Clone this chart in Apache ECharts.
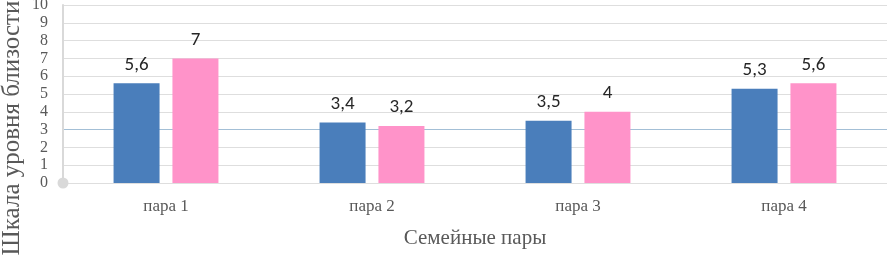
<!DOCTYPE html>
<html><head><meta charset="utf-8">
<script src="https://cdn.jsdelivr.net/npm/echarts@6/dist/echarts.min.js"></script>
<style>html,body{margin:0;padding:0;background:#fff}#c{width:889px;height:261px}</style>
</head><body><div id="c"></div>
<script>
const categories = ['пара 1', 'пара 2', 'пара 3', 'пара 4'];
const seriesBlue = [5.6, 3.4, 3.5, 5.3];
const seriesPink = [7, 3.2, 4, 5.6];
const yTicks = [0, 1, 2, 3, 4, 5, 6, 7, 8, 9, 10];
const yTitle = 'Шкала уровня близости';
const xTitle = 'Семейные пары';

const gridColors = yTicks.map(v => v === 3 ? '#a3bfd6' : '#dedede');
const fmt = p => String(p.value).replace('.', ',');
const chart = echarts.init(document.getElementById('c'));
const labelCfg = {show: true, position: 'top', distance: 9, formatter: fmt,
  fontFamily: 'Carlito, "Open Sans", "Liberation Sans", sans-serif', fontSize: 19, color: '#262626'};
chart.setOption({
  animation: false,
  grid: {left: 63, right: 2, top: 5, bottom: 78, outerBoundsMode: 'none', containLabel: false},
  xAxis: {
    type: 'category', data: categories,
    axisLine: {show: false}, axisTick: {show: false},
    axisLabel: {margin: 15, fontFamily: '"Liberation Serif", serif', fontSize: 17, color: '#595959'},
    name: xTitle, nameLocation: 'middle', nameGap: 45,
    nameTextStyle: {fontFamily: '"Liberation Serif", serif', fontSize: 21, color: '#595959'}
  },
  yAxis: {
    type: 'value', min: 0, max: 10, interval: 1,
    axisLine: {show: true, symbol: ['circle', 'none'], symbolSize: [11, 11],
      lineStyle: {color: '#d9d9d9', width: 2}},
    axisTick: {show: false},
    splitLine: {show: true, lineStyle: {color: gridColors, width: 1}},
    axisLabel: {margin: 15, fontFamily: '"Liberation Serif", serif', fontSize: 16, color: '#595959'}
  },
  graphic: [{
    type: 'text', x: 12, y: 128, rotation: Math.PI / 2,
    style: {text: yTitle, fontFamily: '"Liberation Serif", serif', fontSize: 25, fill: '#595959',
      align: 'center', verticalAlign: 'middle'}
  }],
  series: [
    {type: 'bar', data: seriesBlue, barWidth: 46, barGap: '28%', itemStyle: {color: '#4a7ebb'}, label: labelCfg},
    {type: 'bar', data: seriesPink, barWidth: 46, itemStyle: {color: '#ff93c9'}, label: labelCfg}
  ]
});
</script></body></html>
